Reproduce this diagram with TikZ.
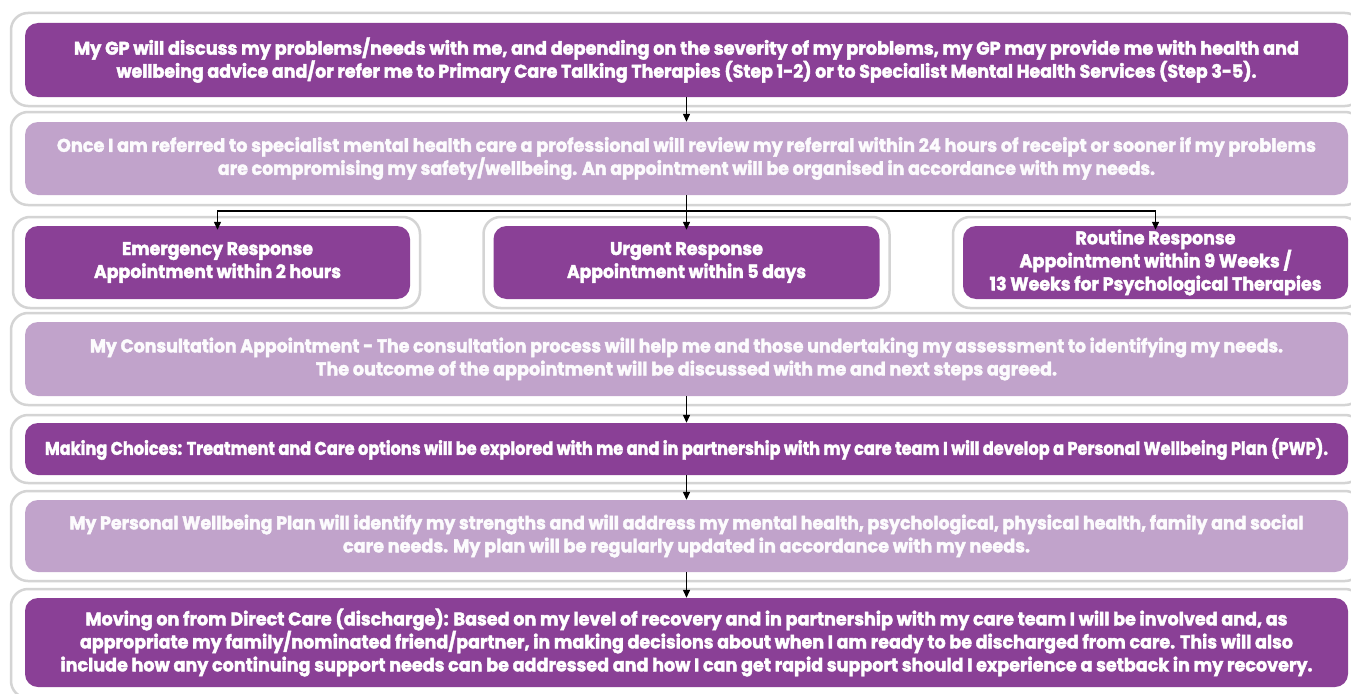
\documentclass[tikz,border=0pt]{standalone}
\usepackage{fontspec}
\setmainfont{Poppins}[BoldFeatures={FakeBold=2.2}]
\usepackage{graphicx}
\usetikzlibrary{arrows.meta}

\definecolor{plum}{RGB}{138,64,150}
\definecolor{lilac}{RGB}{193,163,203}
\definecolor{framegray}{RGB}{212,212,212}

% set one line of text and stretch it horizontally to a given width (in pt)
\newlength\fitnat
\newcommand\fitln[2]{\settowidth\fitnat{#2}\pgfmathsetmacro\fitsx{#1/\fitnat}\scalebox{\fitsx}[1.05]{#2}}

\begin{document}
\begin{tikzpicture}[x=1pt,y=-1pt,
  frame/.style={draw=framegray, line width=2.5pt, fill=white, rounded corners=17pt, inner sep=0pt},
  stepdark/.style={fill=plum, rounded corners=13pt, inner sep=0pt, text=white,
    font=\bfseries\fontsize{17.5}{23}\selectfont, align=center},
  steplight/.style={stepdark, fill=lilac, text=white!96!lilac},
  flow/.style={line width=1.3pt, -{Triangle[length=8pt,width=7pt]}},
  bus/.style={line width=1.3pt}]

\useasboundingbox (0,0) rectangle (1351,693);
\clip (0,0) rectangle (1351,693);
\fill[white] (0,0) rectangle (1351,693);

% white frames behind each step
\node[frame, minimum width=1351pt, minimum height=93pt] (f1) at (686.5,59.5) {};
\node[frame, minimum width=1351pt, minimum height=93pt] (f2) at (686.5,158.5) {};
\node[frame, minimum width=407pt, minimum height=91pt] (f3a) at (216.5,262.5) {};
\node[frame, minimum width=406pt, minimum height=91pt] (f3b) at (686.5,262.5) {};
\node[frame, minimum width=407pt, minimum height=91pt] (f3c) at (1156.5,262.5) {};
\node[frame, minimum width=1351pt, minimum height=92pt] (f4) at (686.5,359) {};
\node[frame, minimum width=1351pt, minimum height=68pt] (f5) at (686.5,449) {};
\node[frame, minimum width=1351pt, minimum height=90pt] (f6) at (686.5,536) {};
\node[frame, minimum width=1351pt, minimum height=109pt] (f7) at (686.5,643.5) {};

% steps
\node[stepdark, minimum width=1323pt, minimum height=74pt] (gp) at (686.5,60)
  {\fitln{1225}{My GP will discuss my problems/needs with me, and depending on the severity of my problems, my GP may provide me with health and}\\
   \fitln{1140}{wellbeing advice and/or refer me to Primary Care Talking Therapies (Step 1-2) or to Specialist Mental Health Services (Step 3-5).}};

\node[steplight, minimum width=1323pt, minimum height=73pt] (referral) at (686.5,158.5)
  {\fitln{1259}{Once I am referred to specialist mental health care a professional will review my referral within 24 hours of receipt or sooner if my problems}\\
   \fitln{937}{are compromising my safety/wellbeing. An appointment will be organised in accordance with my needs.}};

\node[stepdark, minimum width=385pt, minimum height=73pt] (emergency) at (217.5,262.5)
  {\fitln{191}{Emergency Response}\\ \fitln{247}{Appointment within 2 hours}};

\node[stepdark, minimum width=386pt, minimum height=73pt] (urgent) at (686.5,262.5)
  {\fitln{153}{Urgent Response}\\ \fitln{239}{Appointment within 5 days}};

\node[stepdark, minimum width=385pt, minimum height=73pt] (routine) at (1155.5,262.5)
  {\fitln{160}{Routine Response}\\ \fitln{272}{Appointment within 9 Weeks /}\\
   \fitln{332}{13 Weeks for Psychological Therapies}};

\node[steplight, minimum width=1323pt, minimum height=74pt] (consult) at (686.5,359)
  {\fitln{1193}{My Consultation Appointment - The consultation process will help me and those undertaking my assessment to identifying my needs.}\\
   \fitln{741}{The outcome of the appointment will be discussed with me and next steps agreed.}};

\node[stepdark, minimum width=1323pt, minimum height=52pt] (choices) at (686.5,449)
  {\fitln{1283}{Making Choices: Treatment and Care options will be explored with me and in partnership with my care team I will develop a Personal Wellbeing Plan (PWP).}};

\node[steplight, minimum width=1323pt, minimum height=72pt] (plan) at (686.5,536)
  {\fitln{1234}{My Personal Wellbeing Plan will identify my strengths and will address my mental health, psychological, physical health, family and social}\\
   \fitln{687}{care needs. My plan will be regularly updated in accordance with my needs.}};

\node[stepdark, minimum width=1323pt, minimum height=89pt] (discharge) at (686.5,642.5)
  {\fitln{1202}{Moving on from Direct Care (discharge): Based on my level of recovery and in partnership with my care team I will be involved and, as}\\
   \fitln{1213}{appropriate my family/nominated friend/partner, in making decisions about when I am ready to be discharged from care. This will also}\\
   \fitln{1252}{include how any continuing support needs can be addressed and how I can get rapid support should I experience a setback in my recovery.}};

% connectors
\coordinate (fork) at (686.5,211);
\draw[flow] (gp.south) -- (referral.north);
\draw[bus] (referral.south) -- (fork);
\draw[flow, shorten >=-4pt] (fork) -| (emergency.north);
\draw[flow, shorten >=-4pt] (fork) -- (urgent.north);
\draw[flow, shorten >=-4pt] (fork) -| (routine.north);
\draw[flow] (consult.south) -- (choices.north);
\draw[flow] (choices.south) -- (plan.north);
\draw[flow] (plan.south) -- (discharge.north);
\end{tikzpicture}
\end{document}
